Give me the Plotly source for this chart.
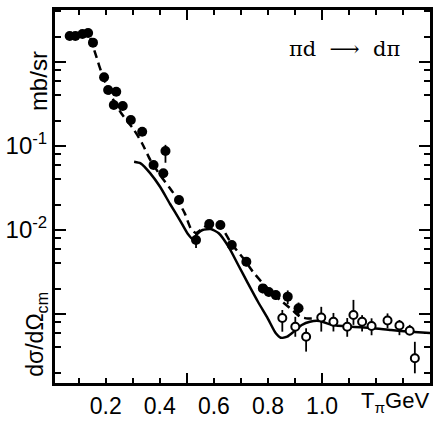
import plotly.graph_objects as go

# Filled points: pi d -> d pi, backward c.m. cross section (mb/sr) vs T_pi (GeV)
t_filled = [0.067, 0.088, 0.114, 0.135, 0.153, 0.194, 0.209, 0.230, 0.239, 0.263,
            0.293, 0.335, 0.377, 0.413, 0.421, 0.471, 0.534, 0.583, 0.624, 0.666,
            0.720, 0.781, 0.803, 0.829, 0.873, 0.913]
xs_filled = [2.04, 2.04, 2.15, 2.21, 1.70, 0.657, 0.464, 0.308, 0.443, 0.299,
             0.204, 0.148, 0.0594, 0.0473, 0.0872, 0.0228, 0.0076, 0.0118, 0.0115, 0.00663,
             0.00420, 0.00202, 0.00183, 0.00168, 0.00161, 0.00117]
err_hi_filled = [0.15, 0.15, 0.15, 0.15, 0.12, 0.05, 0.04, 0.03, 0.04, 0.03,
                 0.02, 0.015, 0.006, 0.005, 0.016, 0.0025, 0.0018, 0.0012, 0.0012, 0.0007,
                 0.0005, 0.00025, 0.0002, 0.0002, 0.0003, 0.0002]
err_lo_filled = [0.15, 0.15, 0.15, 0.15, 0.12, 0.05, 0.04, 0.03, 0.04, 0.03,
                 0.02, 0.015, 0.006, 0.005, 0.024, 0.0025, 0.0015, 0.0012, 0.0012, 0.0007,
                 0.0005, 0.00025, 0.0002, 0.0002, 0.0003, 0.0002]
dt_filled = [0.008, 0.008, 0.008, 0.008, 0, 0, 0, 0, 0, 0,
             0, 0, 0, 0, 0, 0, 0, 0, 0, 0,
             0, 0, 0, 0, 0, 0]

# Open points
t_open = [0.853, 0.901, 0.941, 0.997, 1.042, 1.093, 1.116, 1.148, 1.183, 1.242,
          1.286, 1.324, 1.343]
xs_open = [8.96e-4, 7.06e-4, 5.37e-4, 9.08e-4, 8.10e-4, 7.06e-4, 9.73e-4, 8.10e-4,
           7.19e-4, 8.37e-4, 7.30e-4, 6.33e-4, 2.97e-4]
err_hi_open = [2.2e-4, 2.2e-4, 1.4e-4, 3.1e-4, 2.2e-4, 1.9e-4, 5.0e-4, 1.6e-4,
               1.7e-4, 1.8e-4, 1.2e-4, 1.1e-4, 1.7e-4]
err_lo_open = [2.8e-4, 1.7e-4, 1.8e-4, 2.9e-4, 1.9e-4, 1.7e-4, 2.3e-4, 1.9e-4,
               1.6e-4, 1.6e-4, 1.7e-4, 0.7e-4, 1.0e-4]

# Dashed curve
t_dash = [0.143, 0.167, 0.185, 0.215, 0.257, 0.305, 0.334, 0.365, 0.401, 0.450,
          0.492, 0.514, 0.533, 0.551, 0.582, 0.608, 0.630, 0.666, 0.708, 0.744,
          0.781, 0.817, 0.853, 0.889, 0.919, 0.948, 0.979]
xs_dash = [1.93, 1.116, 0.740, 0.428, 0.247, 0.155, 0.1086, 0.0681, 0.0452, 0.0276,
           0.0159, 0.01056, 0.00921, 0.0100, 0.01179, 0.01179, 0.01056, 0.00681, 0.00464, 0.00319,
           0.00232, 0.00176, 0.00140, 0.00112, 0.000929, 0.000884, 0.000889]

# Solid curve
t_solid = [0.305, 0.329, 0.365, 0.401, 0.438, 0.474, 0.504, 0.522, 0.540, 0.558,
           0.588, 0.618, 0.654, 0.690, 0.726, 0.763, 0.799, 0.829, 0.847, 0.871,
           0.895, 0.925, 0.955, 0.991, 1.038, 1.110, 1.182, 1.255, 1.327, 1.399]
xs_solid = [0.0650, 0.0622, 0.0473, 0.0327, 0.0204, 0.01315, 0.00896, 0.00781, 0.00908, 0.0100,
            0.01028, 0.00914, 0.00633, 0.00383, 0.00232, 0.00140, 0.000889, 0.000589, 0.000522, 0.000537,
            0.000615, 0.000740, 0.000810, 0.000826, 0.000740, 0.000706, 0.000681, 0.000645, 0.000616, 0.000594]

# Axis ticks
x_tick_vals = [0.2, 0.4, 0.6, 0.8, 1.0]
x_tick_text = ["0.2", "0.4", "0.6", "0.8", "1.0"]
x_long_ticks = [0.5, 1.0]
y_tick_vals = [0.1, 0.01]
y_tick_text = ["10<sup>-1</sup>", "10<sup>-2</sup>"]
y_long_ticks = [1, 0.1, 0.01, 0.001]
y_minor_vals = [m * 10.0 ** e for e in range(-4, 1) for m in (2, 4, 6, 8)]

FONT = "Liberation Sans Narrow, Liberation Sans, Arial, sans-serif"
INK = "black"

fig = go.Figure()

fig.add_trace(go.Scatter(
    x=t_dash, y=xs_dash, mode="lines",
    line=dict(color=INK, width=2.5, dash="8px,5px", shape="spline", smoothing=0.6),
    hoverinfo="skip", showlegend=False))

fig.add_trace(go.Scatter(
    x=t_solid, y=xs_solid, mode="lines",
    line=dict(color=INK, width=2.5, shape="spline", smoothing=0.6),
    hoverinfo="skip", showlegend=False))

fig.add_trace(go.Scatter(
    x=t_filled, y=xs_filled, mode="markers",
    marker=dict(symbol="circle", size=10, color=INK),
    error_y=dict(type="data", array=err_hi_filled, arrayminus=err_lo_filled,
                 color=INK, thickness=1.8, width=0),
    error_x=dict(type="data", array=dt_filled, color=INK, thickness=1.8, width=0),
    showlegend=False))

fig.add_trace(go.Scatter(
    x=t_open, y=xs_open, mode="markers",
    marker=dict(symbol="circle", size=8, color="white", line=dict(color=INK, width=2)),
    error_y=dict(type="data", array=err_hi_open, arrayminus=err_lo_open,
                 color=INK, thickness=1.8, width=0),
    showlegend=False))

# Carrier trace for the overlay axes holding the long ticks
fig.add_trace(go.Scatter(
    x=x_long_ticks, y=[0.01, 0.01], xaxis="x2", yaxis="y2", mode="markers",
    marker=dict(opacity=0), hoverinfo="skip", showlegend=False))

x_range = [0.0126, 1.399]
y_range = [-3.821, 0.619]

fig.update_layout(
    width=439, height=427,
    margin=dict(l=49, r=6, t=10, b=44),
    paper_bgcolor="white", plot_bgcolor="white",
    font=dict(family=FONT, color=INK, size=23),
    xaxis=dict(
        range=x_range, showgrid=False, zeroline=False,
        showline=True, linecolor=INK, linewidth=3, mirror="allticks",
        ticks="inside", ticklen=5, tickwidth=2, tickcolor=INK,
        tickvals=x_tick_vals, ticktext=x_tick_text,
        minor=dict(tickmode="linear", tick0=0, dtick=0.1, ticks="inside",
                   ticklen=5, tickwidth=2, tickcolor=INK, showgrid=False),
        tickfont=dict(size=23),
    ),
    xaxis2=dict(
        range=x_range, overlaying="x", anchor="y2", side="bottom",
        showgrid=False, zeroline=False, showline=False, mirror="allticks",
        ticks="inside", ticklen=10, tickwidth=2, tickcolor=INK,
        tickvals=x_long_ticks, showticklabels=False,
    ),
    yaxis=dict(
        type="log", range=y_range, showgrid=False, zeroline=False,
        showline=True, linecolor=INK, linewidth=3, mirror="allticks",
        ticks="inside", ticklen=11, tickwidth=2, tickcolor=INK,
        tickvals=y_tick_vals, ticktext=y_tick_text,
        minor=dict(tickvals=y_minor_vals, ticks="inside", ticklen=6,
                   tickwidth=2, tickcolor=INK, showgrid=False),
        tickfont=dict(size=24),
    ),
    yaxis2=dict(
        type="log", range=y_range, overlaying="y", anchor="x2", side="left",
        showgrid=False, zeroline=False, showline=False, mirror="allticks",
        ticks="inside", ticklen=11, tickwidth=2, tickcolor=INK,
        tickvals=y_long_ticks, showticklabels=False,
    ),
)

# Axis titles and reaction label
fig.add_annotation(text="mb/sr", textangle=-90, xref="paper", yref="paper",
                   x=-0.042, y=0.81, xanchor="center", yanchor="middle",
                   showarrow=False, font=dict(size=24), borderpad=0)
fig.add_annotation(text="dσ/dΩ<sub>cm</sub>", textangle=-90, xref="paper", yref="paper",
                   x=-0.05, y=0.13, xanchor="center", yanchor="middle",
                   showarrow=False, font=dict(size=23), borderpad=0)
fig.add_annotation(text="T<sub>π</sub>GeV", xref="paper", yref="paper",
                   x=1.0, y=-0.052, xanchor="right", yanchor="middle",
                   showarrow=False, font=dict(size=22), borderpad=0)
fig.add_annotation(text="πd  ⟶  dπ", xref="paper", yref="paper",
                   x=0.771, y=0.895, xanchor="center", yanchor="middle",
                   showarrow=False, font=dict(family="DejaVu Serif", size=21), borderpad=0)

fig.write_html("out.html")
